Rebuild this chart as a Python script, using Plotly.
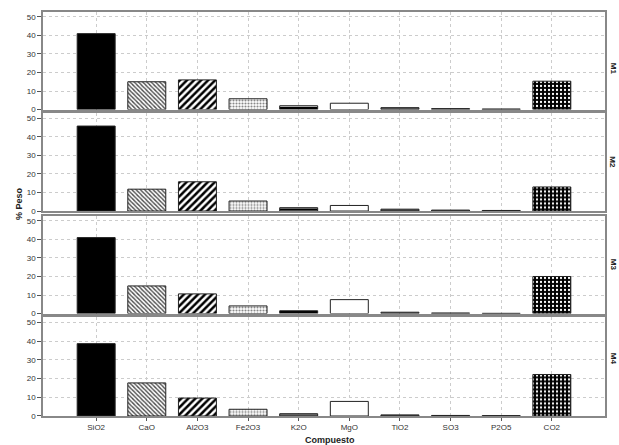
import plotly.graph_objects as go
from plotly.subplots import make_subplots

compuestos = ["SiO2", "CaO", "Al2O3", "Fe2O3", "K2O", "MgO", "TiO2", "SO3", "P2O5", "CO2"]
m1 = [41.0, 15.0, 16.0, 5.8, 2.0, 3.4, 1.0, 0.5, 0.3, 15.3]
m2 = [45.9, 11.8, 15.8, 5.4, 1.8, 3.0, 1.0, 0.5, 0.3, 13.0]
m3 = [41.0, 14.9, 10.6, 4.1, 1.5, 7.5, 0.7, 0.3, 0.1, 20.0]
m4 = [38.7, 17.7, 9.6, 3.6, 1.2, 7.8, 0.6, 0.3, 0.2, 22.2]
muestras = ["M1", "M2", "M3", "M4"]
series = [m1, m2, m3, m4]
y_ticks = [0, 10, 20, 30, 40, 50]

# fill style per compound: (base colour, pattern shape, fg, bg, size, solidity)
styles = [
    ("#000000", "", None, None, None, None),
    ("#ffffff", "\\", "#4a4a4a", "#ffffff", 3, 0.45),
    ("#ffffff", "/", "#000000", "#ffffff", 5, 0.5),
    ("#ffffff", ".", "#888888", "#ffffff", 3, 0.4),
    ("#000000", "-", "#ffffff", "#000000", 3, 0.3),
    ("#ffffff", "", None, None, None, None),
    ("#555555", "", None, None, None, None),
    ("#777777", "", None, None, None, None),
    ("#777777", "", None, None, None, None),
    ("#000000", ".", "#ffffff", "#000000", 4, 0.25),
]

fig = make_subplots(rows=4, cols=1, shared_xaxes=True, vertical_spacing=0.01)

for i, vals in enumerate(series):
    for j, comp in enumerate(compuestos):
        base, shape, fg, bg, sz, sol = styles[j]
        marker = dict(color=base, line=dict(color="#222222", width=1))
        if shape:
            marker["pattern"] = dict(shape=shape, fgcolor=fg, bgcolor=bg, size=sz,
                                     solidity=sol, fillmode="replace")
        fig.add_trace(go.Bar(x=[comp], y=[vals[j]], width=0.75, marker=marker,
                             name=comp, showlegend=False), row=i + 1, col=1)

H = 445
bot_px, top_px = 416, 10
ph = bot_px - top_px
panels = [(10, 108), (112, 210), (215, 313), (317, 416)]
for i, (t, b) in enumerate(panels):
    d = [(bot_px - b) / ph, (bot_px - t) / ph]
    yname = "yaxis" if i == 0 else f"yaxis{i+1}"
    xname = "xaxis" if i == 0 else f"xaxis{i+1}"
    fig.layout[yname].update(domain=d, range=[0, 50 * 98 / 93], tickvals=y_ticks,
                             showgrid=True, gridcolor="#cccccc", griddash="3px,3px", gridwidth=1,
                             ticks="outside", ticklen=4, tickcolor="#555555",
                             showline=True, mirror=True, linecolor="#888888", linewidth=1.5,
                             tickfont=dict(size=8, color="#333333", family="Liberation Sans"),
                             zeroline=False)
    fig.layout[xname].update(range=[-1.05, 10.05], showgrid=True, gridcolor="#cccccc",
                             griddash="3px,3px", gridwidth=1,
                             showline=True, mirror=True, linecolor="#888888", linewidth=1.5,
                             ticks="outside" if i == 3 else "", ticklen=3, tickcolor="#555555",
                             tickfont=dict(size=8, color="#333333", family="Liberation Sans"))
    fig.add_annotation(text=f"<b>{muestras[i]}</b>", xref="paper", yref="paper",
                       x=1.0, xanchor="center", xshift=8, y=(d[0] + d[1]) / 2,
                       textangle=90, showarrow=False,
                       font=dict(size=8, color="#222222", family="Liberation Sans"))

fig.add_annotation(text="<b>% Peso</b>", xref="paper", yref="paper", x=0, xshift=-24,
                   xanchor="center", y=0.525, textangle=-90, showarrow=False,
                   font=dict(size=9, color="#222222", family="Liberation Sans"))
fig.add_annotation(text="<b>Compuesto</b>", xref="paper", yref="paper", x=0.51,
                   y=0, yshift=-24, yanchor="middle", showarrow=False,
                   font=dict(size=9, color="#222222", family="Liberation Sans"))

fig.update_layout(width=619, height=H, margin=dict(l=43, r=14, t=10, b=29),
                  plot_bgcolor="white", paper_bgcolor="white", barmode="overlay")

fig.write_html("out.html")
